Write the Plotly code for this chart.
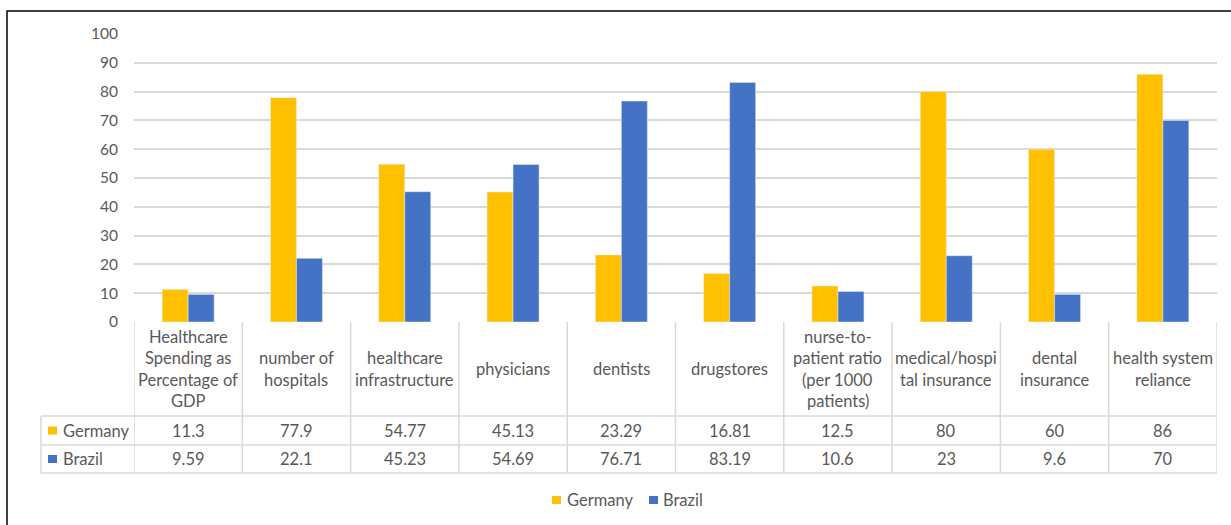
import plotly.graph_objects as go

# Chart data
categories = [
    "Healthcare\nSpending as\nPercentage of\nGDP",
    "number of\nhospitals",
    "healthcare\ninfrastructure",
    "physicians",
    "dentists",
    "drugstores",
    "nurse-to-\npatient ratio\n(per 1000\npatients)",
    "medical/hospi\ntal insurance",
    "dental\ninsurance",
    "health system\nreliance",
]
germany = [11.3, 77.9, 54.77, 45.13, 23.29, 16.81, 12.5, 80, 60, 86]
brazil = [9.59, 22.1, 45.23, 54.69, 76.71, 83.19, 10.6, 23, 9.6, 70]
value_labels_germany = ["11.3", "77.9", "54.77", "45.13", "23.29", "16.81", "12.5", "80", "60", "86"]
value_labels_brazil = ["9.59", "22.1", "45.23", "54.69", "76.71", "83.19", "10.6", "23", "9.6", "70"]
series_names = ["Germany", "Brazil"]
y_ticks = [0, 10, 20, 30, 40, 50, 60, 70, 80, 90, 100]

W, H = 1231, 525
GER_COLOR = "#FFC000"
BRA_COLOR = "#4472C4"
TEXT = "#595959"
GRID = "#D9D9D9"
FONT = "Lato"
FS = 16.5


def px(x):
    return x / W


def py(y):
    return 1 - y / H


idx = list(range(len(categories)))

fig = go.Figure()
fig.add_trace(go.Bar(x=idx, y=germany, name=series_names[0], marker_color=GER_COLOR))
fig.add_trace(go.Bar(x=idx, y=brazil, name=series_names[1], marker_color=BRA_COLOR))

# table geometry (pixels)
plot_left, plot_right = 134, 1217
plot_top, plot_bottom = 34, 322
header_bottom, row1_bottom, row2_bottom = 416, 445, 473
label_left = 41
row_centers = [430.5, 459]

shapes = []
line = dict(color=GRID, width=1.5)
# vertical column borders, positioned by the category axis
for i in range(len(categories) + 1):
    shapes.append(dict(type="line", xref="x", yref="paper",
                       x0=i - 0.5, x1=i - 0.5,
                       y0=py(row2_bottom), y1=py(plot_bottom), line=line))
shapes.append(dict(type="line", xref="paper", yref="paper",
                   x0=px(label_left), x1=px(label_left),
                   y0=py(row2_bottom), y1=py(header_bottom), line=line))
for yy in (header_bottom, row1_bottom, row2_bottom):
    shapes.append(dict(type="line", xref="paper", yref="paper",
                       x0=px(label_left), x1=px(plot_right),
                       y0=py(yy), y1=py(yy), line=line))
# series keys inside the table
for yc, col in zip(row_centers, (GER_COLOR, BRA_COLOR)):
    shapes.append(dict(type="rect", xref="paper", yref="paper",
                       x0=px(48), x1=px(57), y0=py(yc + 4), y1=py(yc - 4),
                       fillcolor=col, line=dict(width=0)))
# legend keys below the table
legend_items = [(552, 567), (649, 663)]
for (sx, _), col in zip(legend_items, (GER_COLOR, BRA_COLOR)):
    shapes.append(dict(type="rect", xref="paper", yref="paper",
                       x0=px(sx), x1=px(sx + 9), y0=py(504), y1=py(496),
                       fillcolor=col, line=dict(width=0)))
# outer chart frame
shapes.append(dict(type="rect", xref="paper", yref="paper",
                   x0=px(7), x1=1.05, y0=-0.05, y1=py(11),
                   line=dict(color="black", width=1.5), layer="below"))

txt_font = dict(family=FONT, size=FS, color=TEXT)
annotations = []
header_center = (plot_bottom + header_bottom) / 2
line_h = 21.5
for i, cat in enumerate(categories):
    parts = cat.split("\n")
    n = len(parts)
    for k, part in enumerate(parts):
        yc = header_center + (k - (n - 1) / 2) * line_h
        annotations.append(dict(xref="x", yref="paper", x=i, y=py(yc),
                                text=part, showarrow=False,
                                xanchor="center", yanchor="middle",
                                font=txt_font))
    for labels, yc in zip((value_labels_germany, value_labels_brazil), row_centers):
        annotations.append(dict(xref="x", yref="paper", x=i, y=py(yc),
                                text=labels[i], showarrow=False,
                                xanchor="center", yanchor="middle",
                                font=txt_font))
for name, yc in zip(series_names, row_centers):
    annotations.append(dict(xref="paper", yref="paper", x=px(61), y=py(yc),
                            text=name, showarrow=False,
                            xanchor="left", yanchor="middle", font=txt_font))
for name, (_, tx) in zip(series_names, legend_items):
    annotations.append(dict(xref="paper", yref="paper", x=px(tx - 2), y=py(500),
                            text=name, showarrow=False,
                            xanchor="left", yanchor="middle", font=txt_font))

fig.update_layout(
    width=W, height=H,
    margin=dict(l=0, r=0, t=0, b=0, autoexpand=False),
    paper_bgcolor="white", plot_bgcolor="white",
    barmode="group", bargap=0.52, bargroupgap=0,
    font=txt_font,
    xaxis=dict(domain=[px(plot_left), px(plot_right)],
               range=[-0.5, len(categories) - 0.5],
               showticklabels=False, showgrid=False, zeroline=False,
               showline=False, fixedrange=True),
    yaxis=dict(domain=[py(plot_bottom), py(plot_top)], range=[0, 100],
               tickvals=y_ticks, ticktext=[str(v) for v in y_ticks],
               showgrid=True, gridcolor=GRID, gridwidth=1.5,
               zeroline=False, showline=False, ticks="",
               ticklabelstandoff=15, automargin=False,
               tickfont=dict(family=FONT, size=15.5, color=TEXT)),
    showlegend=False,
    shapes=shapes,
    annotations=annotations,
)

fig.write_html("out.html")
